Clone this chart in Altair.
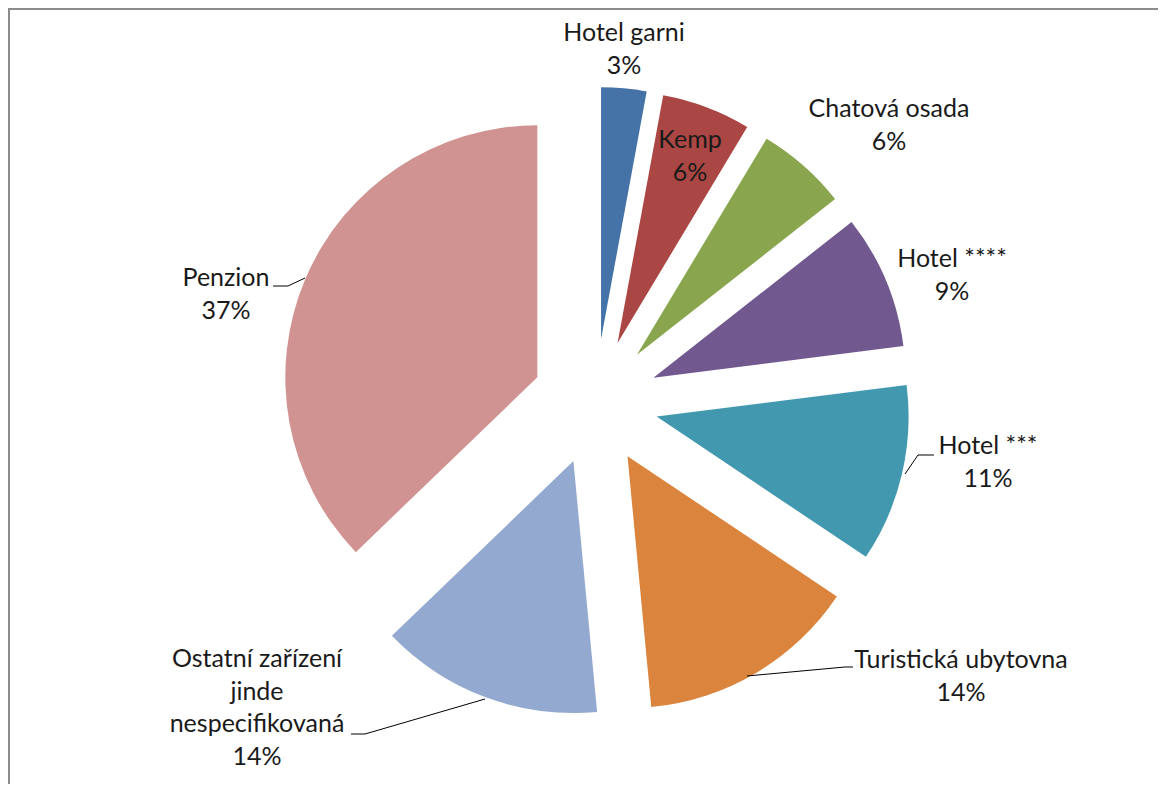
import math
import altair as alt
import pandas as pd

# ---- data ----
categories = ["Hotel garni", "Kemp", "Chatová osada", "Hotel ****", "Hotel ***",
              "Turistická ubytovna", "Ostatní zařízení jinde nespecifikovaná", "Penzion"]
values = [2.9, 5.7, 5.8, 8.6, 11.4, 14.1, 14.3, 37.2]
colors = ["#4572A7", "#AA4643", "#89A54E", "#71588F", "#4198AF", "#DB843D", "#93A9CF", "#D19392"]
# how each category name is broken into lines on the chart
wrapped = ["Hotel garni", "Kemp", "Chatová osada", "Hotel ****", "Hotel ***",
           "Turistická ubytovna", "Ostatní zařízení|jinde|nespecifikovaná", "Penzion"]

# ---- layout (page pixels; plot area starts at page 8,8) ----
OFF = 8
W, H = 1150, 776
CX, CY = 595.3 - OFF, 402 - OFF
R = 252
EXPLODE = 63
FONT = "Lato"
FS = 25
LH = 32.5
label_pos = {  # center x, first baseline y (page pixels)
    "Hotel garni": (624, 41),
    "Kemp": (690, 148),
    "Chatová osada": (889, 117),
    "Hotel ****": (952, 267),
    "Hotel ***": (988, 454),
    "Turistická ubytovna": (961, 668),
    "Ostatní zařízení jinde nespecifikovaná": (257, 667),
    "Penzion": (226, 286),
}
leaders = {  # polyline points (page pixels)
    "Penzion": [(273, 286), (288, 286), (305, 278)],
    "Hotel ***": [(934, 455), (918, 455), (905, 474)],
    "Turistická ubytovna": [(853, 667), (845, 667), (747, 676)],
    "Ostatní zařízení jinde nespecifikovaná": [(351, 734), (365, 734), (485, 699)],
}

pie_df = pd.DataFrame({"idx": list(range(len(categories))), "category": categories, "value": values})

pie = (
    alt.Chart(pie_df)
    .transform_joinaggregate(total="sum(value)")
    .transform_window(cum="sum(value)", sort=[alt.SortField("idx")])
    .transform_calculate(
        t1="2*PI*datum.cum/datum.total",
        t0="2*PI*(datum.cum-datum.value)/datum.total",
    )
    .transform_calculate(mid="(datum.t0+datum.t1)/2")
    .transform_calculate(
        cx=f"{CX}+{EXPLODE}*sin(datum.mid)",
        cy=f"{CY}-{EXPLODE}*cos(datum.mid)",
    )
    .mark_arc(radius=R)
    .encode(
        x=alt.X("cx:Q", scale=None),
        y=alt.Y("cy:Q", scale=None),
        theta=alt.Theta("t0:Q", scale=None, stack=None),
        theta2=alt.Theta2("t1:Q"),
        color=alt.Color("category:N", scale=alt.Scale(domain=categories, range=colors), legend=None),
    )
)

lab_rows = []
for c, v, wname in zip(categories, values, wrapped):
    lx, ly = label_pos[c]
    lab_rows.append({"category": c, "txt": f"{wname}|{v:.0f}%", "lx": lx - OFF, "ly": ly - OFF})
lab_df = pd.DataFrame(lab_rows)

labels = (
    alt.Chart(lab_df)
    .transform_calculate(lines="split(datum.txt, '|')")
    .mark_text(font=FONT, fontSize=FS, lineHeight=LH, align="center", baseline="alphabetic", color="#1a1a1a")
    .encode(x=alt.X("lx:Q", scale=None), y=alt.Y("ly:Q", scale=None), text="lines:N")
)

ld_rows = []
for c, pts in leaders.items():
    for k, (px, py) in enumerate(pts):
        ld_rows.append({"category": c, "k": k, "px": px - OFF, "py": py - OFF})
ld_df = pd.DataFrame(ld_rows)

lines = (
    alt.Chart(ld_df)
    .mark_line(color="#000000", strokeWidth=1)
    .encode(x=alt.X("px:Q", scale=None), y=alt.Y("py:Q", scale=None), detail="category:N", order="k:Q")
)

border_top = alt.Chart(pd.DataFrame({"a": [0]})).mark_rule(color="#8c8c8c", strokeWidth=2).encode(
    x=alt.value(0), x2=alt.value(W), y=alt.value(1)
)
border_left = alt.Chart(pd.DataFrame({"a": [0]})).mark_rule(color="#8c8c8c", strokeWidth=2).encode(
    x=alt.value(1), y=alt.value(0), y2=alt.value(H)
)

chart = (
    alt.layer(pie, lines, labels, border_top, border_left)
    .properties(width=W, height=H, padding=0, autosize=alt.AutoSizeParams(type="none"))
    .configure_view(stroke=None)
)

chart.save("out.html", embed_options={"renderer": "svg", "actions": False})
